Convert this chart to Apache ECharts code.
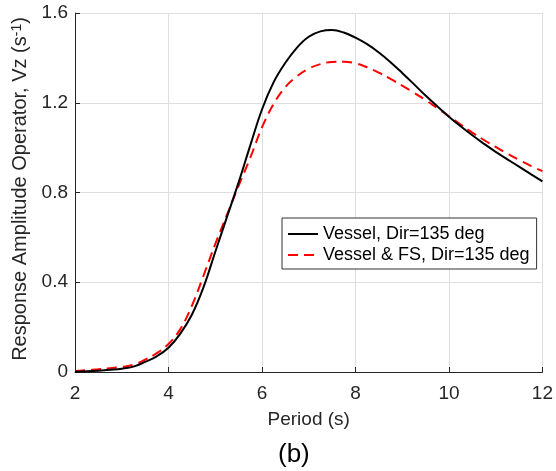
<!DOCTYPE html>
<html>
<head>
<meta charset="utf-8">
<script src="https://cdn.jsdelivr.net/npm/echarts@6/dist/echarts.min.js"></script>
<style>html,body{margin:0;padding:0;background:#fff}#c{width:556px;height:471px}</style>
</head>
<body>
<div id="c"></div>
<script>
const periods = [2, 2.25, 2.5, 2.75, 3, 3.25, 3.5, 3.75, 4, 4.25, 4.5, 4.75, 5, 5.25, 5.5, 5.75, 6, 6.25, 6.5, 6.75, 7, 7.25, 7.5, 7.75, 8, 8.25, 8.5, 8.75, 9, 9.25, 9.5, 9.75, 10, 10.25, 10.5, 10.75, 11, 11.25, 11.5, 11.75, 12];
const vesselRAO = [0.001, 0.003, 0.006, 0.010, 0.015, 0.024, 0.045, 0.070, 0.108, 0.170, 0.255, 0.378, 0.535, 0.690, 0.845, 1.010, 1.170, 1.292, 1.378, 1.446, 1.494, 1.518, 1.524, 1.513, 1.490, 1.461, 1.424, 1.381, 1.333, 1.283, 1.232, 1.184, 1.138, 1.095, 1.055, 1.017, 0.981, 0.948, 0.915, 0.882, 0.850];
const vesselFsRAO = [0.005, 0.008, 0.012, 0.017, 0.023, 0.032, 0.055, 0.084, 0.125, 0.190, 0.295, 0.430, 0.570, 0.700, 0.830, 0.955, 1.090, 1.195, 1.270, 1.318, 1.352, 1.372, 1.382, 1.383, 1.376, 1.358, 1.334, 1.306, 1.276, 1.245, 1.212, 1.176, 1.140, 1.103, 1.067, 1.034, 1.003, 0.973, 0.945, 0.919, 0.895];
const seriesNames = ['Vessel, Dir=135 deg', 'Vessel & FS, Dir=135 deg'];
const xTicks = {min: 2, max: 12, interval: 2};
const yTicks = {min: 0, max: 1.6, interval: 0.4};

const txt = '#262626';
const font = 'Liberation Sans, Arial, sans-serif';
const chart = echarts.init(document.getElementById('c'), null, {renderer: 'canvas'});
chart.setOption({
  animation: false,
  backgroundColor: '#fff',
  textStyle: {fontFamily: font},
  title: {
    text: '(b)', left: 278, top: 442, padding: 0,
    textStyle: {fontFamily: font, fontSize: 26, fontWeight: 'normal', color: '#000'}
  },
  grid: {left: 75, right: 12, top: 13, bottom: 99, containLabel: false},
  legend: {
    orient: 'vertical', left: 282, top: 218,
    padding: [7, 7, 5, 5], itemGap: 3,
    itemWidth: 30, itemHeight: 14,
    backgroundColor: '#fff', borderColor: '#333', borderWidth: 1,
    itemStyle: {opacity: 0},
    textStyle: {fontFamily: font, fontSize: 18, color: '#000'},
    data: seriesNames
  },
  xAxis: {
    type: 'value', min: xTicks.min, max: xTicks.max, interval: xTicks.interval,
    name: 'Period (s)', nameLocation: 'middle', nameGap: 38,
    nameTextStyle: {fontFamily: font, fontSize: 19, color: txt},
    axisLine: {onZero: false, lineStyle: {color: txt, width: 1}},
    axisTick: {inside: true, length: 5, lineStyle: {color: txt}},
    axisLabel: {fontFamily: font, fontSize: 19, color: txt, margin: 12},
    splitLine: {show: true, lineStyle: {color: '#dfdfdf', width: 1}}
  },
  yAxis: {
    type: 'value', min: yTicks.min, max: yTicks.max, interval: yTicks.interval,
    name: '{n|Response Amplitude Operator, Vz (s}{s|-1}{n|)}',
    nameLocation: 'middle', nameGap: 43,
    nameTextStyle: {
      fontFamily: font, fontSize: 20, color: txt, padding: [0, 0, 0, 7],
      rich: {
        n: {fontFamily: font, fontSize: 20, color: txt},
        s: {fontFamily: font, fontSize: 14, color: txt, verticalAlign: 'top', padding: [0, 0, 8, 0]}
      }
    },
    axisLine: {show: true, lineStyle: {color: txt, width: 1}},
    axisTick: {show: true, inside: true, length: 5, lineStyle: {color: txt}},
    axisLabel: {fontFamily: font, fontSize: 19, color: txt, margin: 7},
    splitLine: {show: true, lineStyle: {color: '#dfdfdf', width: 1}}
  },
  series: [
    {
      name: seriesNames[0], type: 'line', smooth: 0.4, symbol: 'none',
      data: periods.map((p, i) => [p, vesselRAO[i]]),
      lineStyle: {color: '#000', width: 2}, itemStyle: {color: '#000'}, z: 3
    },
    {
      name: seriesNames[1], type: 'line', smooth: 0.4, symbol: 'none',
      data: periods.map((p, i) => [p, vesselFsRAO[i]]),
      lineStyle: {color: '#ff0000', width: 2, type: [10, 6]}, itemStyle: {color: '#ff0000'}, z: 2
    }
  ]
});
</script>
</body>
</html>
